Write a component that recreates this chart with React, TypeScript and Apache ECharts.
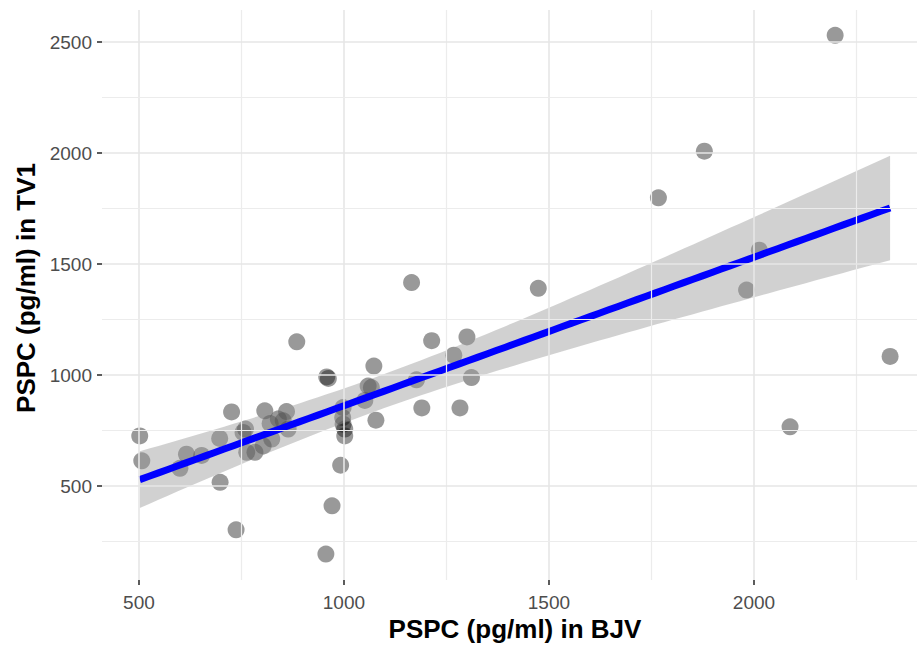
import React, { useEffect, useRef } from "react";
import * as echarts from "echarts";

// PSPC (pg/ml) measured in BJV (x) and TV1 (y)
const bjv = [
  502, 507, 600, 616, 653, 697, 698, 726, 737, 754,
  760, 763, 783, 803, 807, 820, 824, 840, 852, 860,
  864, 885, 958, 962, 956, 971, 992, 998, 997, 998,
  1002, 1002, 1051, 1059, 1067, 1073, 1078, 1165, 1177, 1190,
  1214, 1268, 1283, 1300, 1311, 1474, 1767, 1879, 1982, 2013,
  2088, 2198, 2332,
];
const tv1 = [
  726, 614, 580, 644, 638, 715, 517, 834, 303, 742,
  757, 652, 652, 681, 839, 782, 712, 802, 794, 836,
  757, 1150, 992, 985, 194, 411, 594, 854, 809, 779,
  757, 726, 886, 951, 944, 1041, 797, 1417, 979, 852,
  1155, 1090, 852, 1172, 989, 1391, 1799, 2009, 1383, 1563,
  767, 2531, 1084,
];

const xMajor = [500, 1000, 1500, 2000];
const xMinor = [750, 1250, 1750, 2250];
const yMajor = [500, 1000, 1500, 2000, 2500];
const yMinor = [250, 750, 1250, 1750, 2250];

const xTitle = "PSPC (pg/ml) in BJV";
const yTitle = "PSPC (pg/ml) in TV1";

const X_MIN = 410;
const X_MAX = 2397.6;
const Y_MIN = 77;
const Y_MAX = 2645;
const T_CRIT = 2.0076; // t(0.975, df = n - 2)
const BAND_STEPS = 80;

function linearFit(xs: number[], ys: number[]) {
  const n = xs.length;
  const mx = xs.reduce((a, b) => a + b, 0) / n;
  const my = ys.reduce((a, b) => a + b, 0) / n;
  let sxx = 0;
  let sxy = 0;
  for (let i = 0; i < n; i++) {
    sxx += (xs[i] - mx) * (xs[i] - mx);
    sxy += (xs[i] - mx) * (ys[i] - my);
  }
  const slope = sxy / sxx;
  const intercept = my - slope * mx;
  let sse = 0;
  for (let i = 0; i < n; i++) {
    const r = ys[i] - (intercept + slope * xs[i]);
    sse += r * r;
  }
  const s = Math.sqrt(sse / (n - 2));
  const lo = Math.min(...xs);
  const hi = Math.max(...xs);
  const line: number[][] = [];
  const upper: number[][] = [];
  const lower: number[][] = [];
  for (let k = 0; k <= BAND_STEPS; k++) {
    const x = lo + ((hi - lo) * k) / BAND_STEPS;
    const yh = intercept + slope * x;
    const se = s * Math.sqrt(1 / n + ((x - mx) * (x - mx)) / sxx);
    line.push([x, yh]);
    upper.push([x, yh + T_CRIT * se]);
    lower.push([x, yh - T_CRIT * se]);
  }
  return { line, upper, lower };
}

const FONT = "'Liberation Sans', Arial, Helvetica, sans-serif";

export default function App() {
  const ref = useRef<HTMLDivElement>(null);

  useEffect(() => {
    document.body.style.margin = "0";
    if (!ref.current) return;
    const chart = echarts.init(ref.current, undefined, { renderer: "svg" });
    const { line, upper, lower } = linearFit(bjv, tv1);
    const points = bjv.map((x, i) => [x, tv1[i]]);

    const gridLines: any[] = [];
    xMajor.forEach((v) =>
      gridLines.push({ xAxis: v, lineStyle: { color: "#e6e6e6", width: 1.6, type: "solid" } })
    );
    xMinor.forEach((v) =>
      gridLines.push({ xAxis: v, lineStyle: { color: "#ececec", width: 1.2, type: "solid" } })
    );
    yMajor.forEach((v) =>
      gridLines.push({ yAxis: v, lineStyle: { color: "#e6e6e6", width: 1.6, type: "solid" } })
    );
    yMinor.forEach((v) =>
      gridLines.push({ yAxis: v, lineStyle: { color: "#ececec", width: 1.2, type: "solid" } })
    );

    const plain = (v: number) => String(v);

    const option: any = {
      animation: false,
      backgroundColor: "#ffffff",
      grid: {
        left: 102,
        right: 0,
        top: 10,
        bottom: 66,
        containLabel: false,
        outerBoundsMode: "none",
      },
      xAxis: {
        type: "value",
        min: X_MIN,
        max: X_MAX,
        axisLine: { show: false },
        splitLine: { show: false },
        axisTick: {
          show: true,
          customValues: xMajor,
          length: 5,
          lineStyle: { color: "#333333", width: 1.6 },
        },
        axisLabel: {
          customValues: xMajor,
          formatter: plain,
          color: "#4d4d4d",
          fontSize: 19,
          fontFamily: FONT,
          margin: 13,
        },
      },
      yAxis: {
        type: "value",
        min: Y_MIN,
        max: Y_MAX,
        axisLine: { show: false },
        splitLine: { show: false },
        axisTick: {
          show: true,
          customValues: yMajor,
          length: 5,
          lineStyle: { color: "#333333", width: 1.6 },
        },
        axisLabel: {
          customValues: yMajor,
          formatter: plain,
          color: "#4d4d4d",
          fontSize: 19,
          fontFamily: FONT,
          margin: 10,
        },
      },
      graphic: [
        {
          type: "text",
          x: 515,
          y: 629,
          style: {
            text: xTitle,
            fill: "#000000",
            font: `bold 26px ${FONT}`,
            textAlign: "center",
            textVerticalAlign: "middle",
          },
        },
        {
          type: "text",
          x: 26,
          y: 288,
          rotation: Math.PI / 2,
          style: {
            text: yTitle,
            fill: "#000000",
            font: `bold 26px ${FONT}`,
            textAlign: "center",
            textVerticalAlign: "middle",
          },
        },
      ],
      series: [
        {
          type: "scatter",
          name: "grid",
          data: [],
          silent: true,
          z: 0,
          markLine: {
            silent: true,
            symbol: ["none", "none"],
            label: { show: false },
            animation: false,
            data: gridLines,
          },
        },
        {
          type: "scatter",
          name: "points",
          data: points,
          symbolSize: 17,
          itemStyle: { color: "rgba(0,0,0,0.5)" },
          z: 2,
          silent: true,
        },
        {
          type: "custom",
          name: "band",
          silent: true,
          z: 3,
          clip: true,
          data: [[line[0][0], line[0][1]]],
          renderItem: (_params: any, api: any) => {
            const pts = upper
              .map((p) => api.coord(p))
              .concat(lower.slice().reverse().map((p) => api.coord(p)));
            return {
              type: "polygon",
              shape: { points: pts },
              style: { fill: "rgba(153,153,153,0.45)" },
            };
          },
        },
        {
          type: "line",
          name: "fit",
          data: line,
          showSymbol: false,
          silent: true,
          z: 4,
          lineStyle: { color: "#0000ff", width: 7 },
        },
      ],
    };
    chart.setOption(option);
    return () => chart.dispose();
  }, []);

  return (
    <div
      ref={ref}
      style={{ position: "absolute", left: 0, top: 0, width: 917, height: 646 }}
    />
  );
}
